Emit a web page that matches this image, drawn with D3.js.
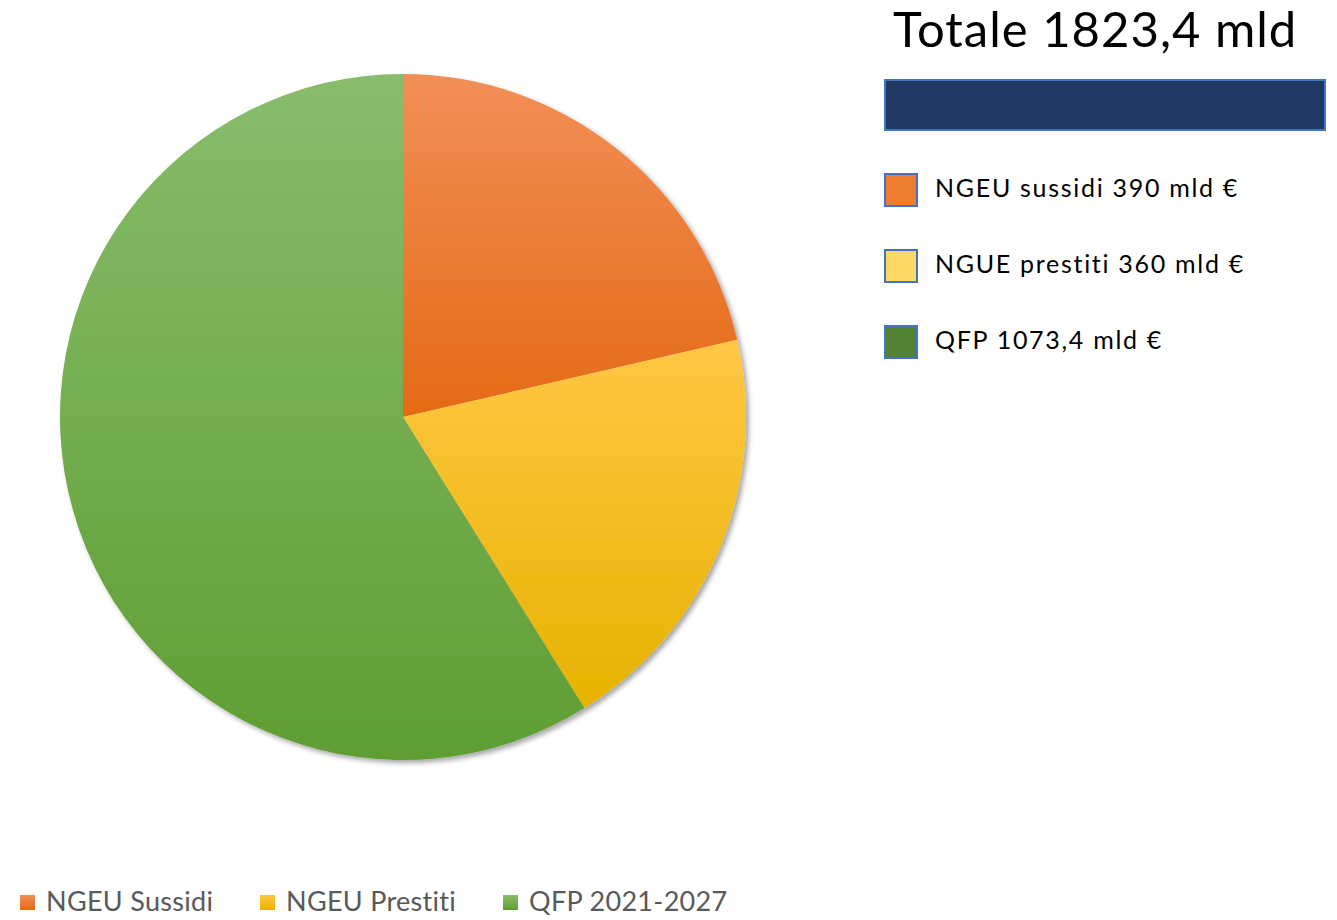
<!DOCTYPE html>
<html lang="it">
  <head>
    <script src="https://d3js.org/d3.v7.min.js"></script>
    <meta charset="utf-8"/>
    <title>Totale 1823,4 mld</title>
    <style>
      html, body { margin: 0; padding: 0; background: #fff; overflow: hidden; }
      text { font-family: Lato, "Open Sans", sans-serif; }
    </style>
  </head>
  <body>
    <svg id="chart"></svg>

  <script>
    // dati
    const categories = ["NGEU Sussidi", "NGEU Prestiti", "QFP 2021-2027"];
    const values = [390, 360, 1073.4];
    const sliceTop = ["#f28f57", "#ffc745", "#89bc6c"];
    const sliceBottom = ["#e46a16", "#e6b300", "#5f9e33"];

    const sideLabels = ["NGEU sussidi 390 mld €", "NGUE prestiti 360 mld €", "QFP 1073,4 mld €"];
    const sideColors = ["#ed7d31", "#ffd966", "#548235"];
    const title = "Totale 1823,4 mld";

    const width = 1337, height = 920;
    const cx = 403, cy = 417, radius = 343;

    const svg = d3.select("#chart")
      .attr("width", width)
      .attr("height", height);

    const defs = svg.append("defs");

    const shadow = defs.append("filter")
      .attr("id", "shadow")
      .attr("x", "-10%").attr("y", "-10%")
      .attr("width", "120%").attr("height", "120%");
    shadow.append("feDropShadow")
      .attr("dx", 3).attr("dy", 3)
      .attr("stdDeviation", 2.5)
      .attr("flood-color", "#000")
      .attr("flood-opacity", 0.35);

    categories.forEach((c, i) => {
      const g = defs.append("linearGradient")
        .attr("id", "grad" + i)
        .attr("x1", 0).attr("y1", 0)
        .attr("x2", 0).attr("y2", 1);
      g.append("stop").attr("offset", "0%").attr("stop-color", sliceTop[i]);
      g.append("stop").attr("offset", "100%").attr("stop-color", sliceBottom[i]);
    });

    const pie = d3.pie().sort(null).value(d => d);
    const arc = d3.arc().innerRadius(0).outerRadius(radius);

    const pieGroup = svg.append("g")
      .attr("transform", "translate(" + cx + "," + cy + ")")
      .attr("filter", "url(#shadow)");

    pieGroup.selectAll("path")
      .data(pie(values))
      .enter()
      .append("path")
        .attr("d", arc)
        .attr("fill", (d, i) => "url(#grad" + i + ")");

    // legenda in basso
    const bottomX = [20, 260, 503];
    const bottom = svg.append("g");
    bottom.selectAll("rect")
      .data(categories)
      .enter()
      .append("rect")
        .attr("x", (d, i) => bottomX[i])
        .attr("y", 895)
        .attr("width", 15)
        .attr("height", 15)
        .attr("fill", (d, i) => "url(#grad" + i + ")");
    bottom.selectAll("text")
      .data(categories)
      .enter()
      .append("text")
        .attr("x", (d, i) => bottomX[i] + 26)
        .attr("y", 911)
        .attr("fill", "#595959")
        .style("font-size", "27px")
        .style("letter-spacing", "0.3px")
        .text(d => d);

    // titolo e riquadro
    svg.append("text")
      .attr("x", 893)
      .attr("y", 47)
      .attr("fill", "#000")
      .style("font-size", "49px")
      .style("letter-spacing", "1px")
      .text(title);

    svg.append("rect")
      .attr("x", 885).attr("y", 80)
      .attr("width", 440).attr("height", 50)
      .attr("fill", "#203864")
      .attr("stroke", "#4472c4")
      .attr("stroke-width", 2);

    // legenda laterale
    const side = svg.append("g");
    side.selectAll("rect")
      .data(sideLabels)
      .enter()
      .append("rect")
        .attr("x", 885)
        .attr("y", (d, i) => 174 + i * 76)
        .attr("width", 32)
        .attr("height", 32)
        .attr("fill", (d, i) => sideColors[i])
        .attr("stroke", "#4472c4")
        .attr("stroke-width", 2);
    side.selectAll("text")
      .data(sideLabels)
      .enter()
      .append("text")
        .attr("x", 935)
        .attr("y", (d, i) => 197 + i * 76)
        .attr("fill", "#000")
        .style("font-size", "25px")
        .style("letter-spacing", "1.7px")
        .text(d => d);
  </script>
  </body>
</html>
